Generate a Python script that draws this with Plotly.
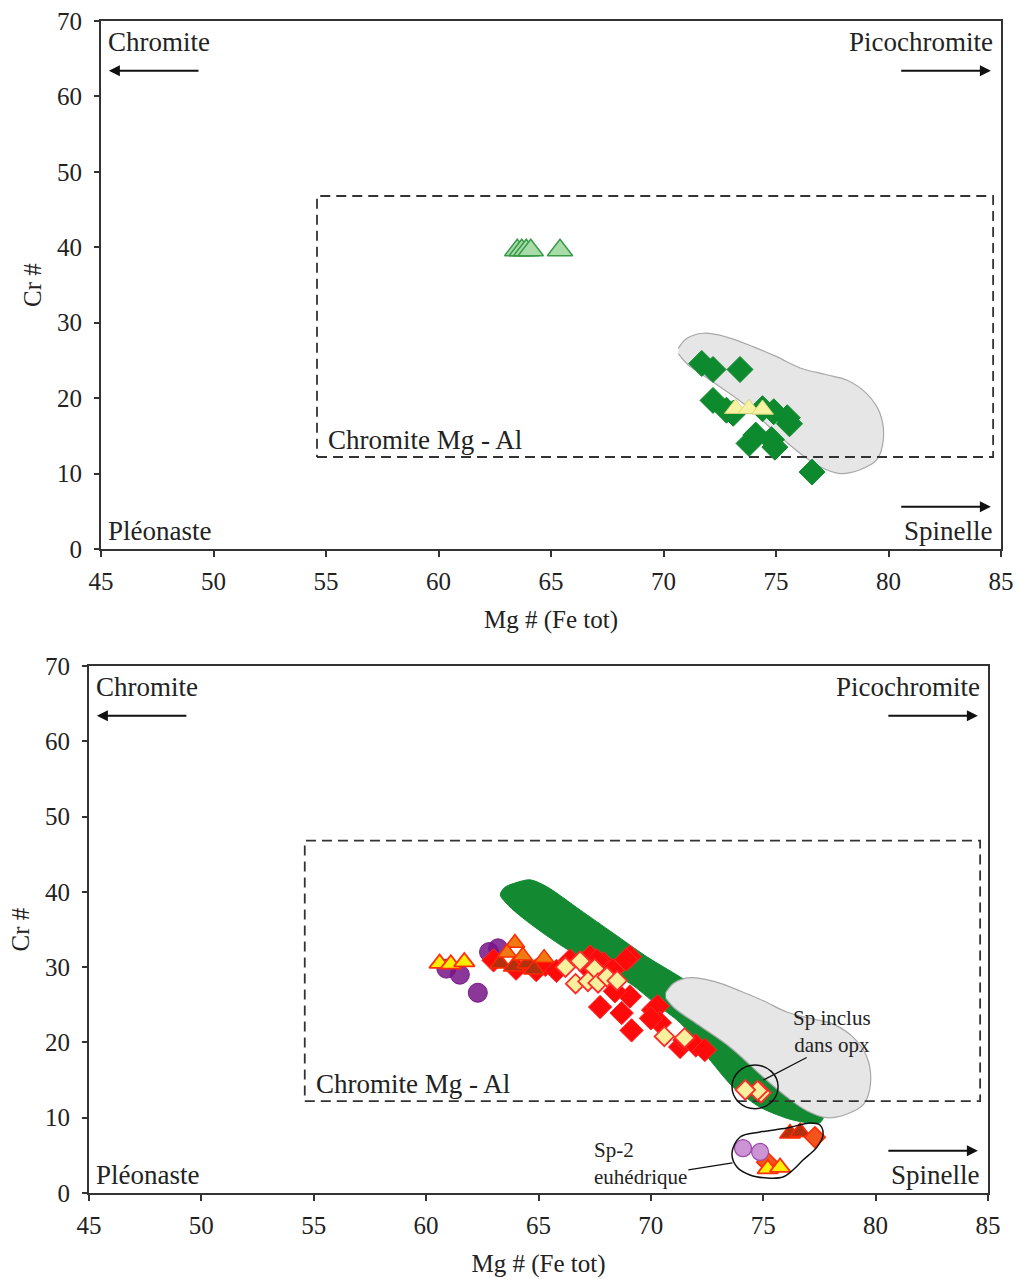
import plotly.graph_objects as go

# ---------------- TOP PANEL DATA ----------------
top_green_diamond_x = [71.7, 72.2, 73.4, 72.2, 72.8, 73.1, 74.4, 74.9, 75.5, 75.6, 73.8, 74.1, 74.8, 74.95, 76.6]
top_green_diamond_y = [24.6, 23.8, 23.8, 19.7, 18.4, 18.0, 18.6, 18.2, 17.4, 16.6, 14.0, 15.1, 14.5, 13.5, 10.2]

top_lightgreen_tri_x = [63.5, 63.7, 63.9, 64.1, 65.4]
top_lightgreen_tri_y = [39.6, 39.6, 39.6, 39.6, 39.6]

top_yellow_tri_x = [73.2, 73.8, 74.4]
top_yellow_tri_y = [18.6, 18.6, 18.5]

# ---------------- BOTTOM PANEL DATA ----------------
bot_purple_x = [60.9, 61.5, 62.3, 62.8, 63.2]
bot_purple_y = [29.8, 29.0, 26.6, 32.0, 32.5]

bot_lilac_x = [74.1, 74.86]
bot_lilac_y = [5.95, 5.45]

bot_red_diamond_x = [63.0, 64.0, 64.9, 65.3, 65.8, 66.4, 67.3, 67.9, 67.6, 68.3, 67.3, 69.07, 68.9,
                     67.74, 68.7, 69.07, 69.14, 68.4, 70.1, 70.3, 70.4, 70.0, 71.3, 71.5, 72.0, 72.4]
bot_red_diamond_y = [30.9, 29.8, 29.6, 30.3, 29.5, 30.9, 31.4, 30.5, 30.9, 29.6, 29.6, 31.4, 31.0,
                     24.7, 23.9, 26.1, 21.6, 26.8, 24.3, 24.8, 22.6, 23.2, 19.4, 20.3, 19.6, 19.0]

bot_yellow_diamond_x = [66.2, 66.85, 67.5, 66.65, 67.2, 67.65, 68.05, 68.5, 70.6, 71.5, 74.9, 74.75, 74.2]
bot_yellow_diamond_y = [30.0, 30.8, 29.8, 27.8, 28.1, 27.9, 28.7, 28.2, 20.8, 20.6, 13.3, 13.6, 13.7]

bot_orange_diamond_x = [77.3, 75.17]
bot_orange_diamond_y = [7.4, 4.1]

bot_darkred_tri_x = [63.3, 63.9, 64.5, 64.8, 76.19, 76.64]
bot_darkred_tri_y = [30.5, 30.1, 30.5, 29.7, 7.9, 8.1]

bot_orange_tri_x = [63.95, 63.6, 64.3, 65.25]
bot_orange_tri_y = [33.2, 31.9, 31.5, 31.2]

bot_yellow_tri_x = [60.6, 61.1, 61.7, 75.2, 75.75]
bot_yellow_tri_y = [30.5, 30.4, 30.7, 3.2, 3.4]

# ---------------- FIELDS / OUTLINES ----------------
gray_field_x = [70.66, 71.03, 71.77, 72.81, 74.0, 75.03, 76.07, 77.25, 78.14, 79.03, 79.62, 79.77,
                79.47, 78.73, 77.84, 76.96, 76.07, 75.03, 73.55, 72.07, 71.03, 70.66]
gray_field_y = [26.6, 27.9, 28.6, 28.1, 26.8, 25.5, 24.0, 23.1, 22.4, 20.6, 18.0, 14.5,
                11.8, 10.5, 10.0, 10.9, 12.7, 15.3, 19.3, 22.4, 24.6, 25.9]

green_band_x = [63.3, 63.5, 63.88, 64.62, 65.36, 66.85, 68.33, 69.81, 71.3, 73.5, 75.8, 77.3, 77.7, 77.5,
                76.32, 74.86, 73.65, 72.63, 71.3, 70.26, 69.07, 67.59, 66.1, 64.62, 63.73, 63.3]
green_band_y = [39.6, 40.6, 41.1, 41.6, 40.7, 37.6, 34.5, 31.4, 28.7, 24.5, 18.5, 13.0, 10.3, 9.3,
                9.7, 11.4, 14.1, 17.66, 22.6, 25.0, 27.85, 30.05, 32.7, 35.8, 38.0, 39.6]

box_x = [54.6, 84.65, 84.65, 54.6, 54.6]
box_y = [12.2, 12.2, 46.8, 46.8, 12.2]

sp2_loop_x = [73.61, 73.97, 74.86, 76.06, 77.08, 77.52, 77.66, 77.39, 76.77, 76.32, 75.88, 75.17,
              74.41, 73.83, 73.61]
sp2_loop_y = [5.31, 7.44, 8.1, 8.63, 9.3, 9.03, 7.7, 6.1, 4.38, 3.05, 2.12, 1.99, 2.39, 3.45, 5.31]

sp_incl_circle_x = [73.61, 75.66]
sp_incl_circle_y = [11.2, 17.0]

FONT = "Liberation Serif"
fig = go.Figure()


def sc(x, y, xa, ya, **kw):
    fig.add_trace(go.Scatter(x=x, y=y, xaxis=xa, yaxis=ya, showlegend=False, hoverinfo="skip", **kw))


DASH = "10px,6px"

# ---- top panel ----
sc(gray_field_x, gray_field_y, "x", "y", mode="lines", fill="toself", fillcolor="#e6e6e6",
   line=dict(color="#a8a8a8", width=1.2, shape="spline", smoothing=1.0))
sc(box_x, box_y, "x", "y", mode="lines", line=dict(color="#333333", width=1.8, dash=DASH))
sc(top_lightgreen_tri_x, top_lightgreen_tri_y, "x", "y", mode="markers",
   marker=dict(symbol="triangle-up", size=22, color="#a9dba9", line=dict(color="#3a9a4a", width=1.5)))
sc(top_green_diamond_x, top_green_diamond_y, "x", "y", mode="markers",
   marker=dict(symbol="diamond", size=20, color="#0e8a2e", line=dict(color="#0e8a2e", width=1)))
sc(top_yellow_tri_x, top_yellow_tri_y, "x", "y", mode="markers",
   marker=dict(symbol="triangle-up", size=19, color="#f6f3a2", line=dict(color="#d6d27a", width=1)))

# ---- bottom panel ----
sc(green_band_x, green_band_y, "x2", "y2", mode="lines", fill="toself", fillcolor="#138a32",
   line=dict(color="#138a32", width=1, shape="spline", smoothing=0.8))
sc(gray_field_x, gray_field_y, "x2", "y2", mode="lines", fill="toself", fillcolor="#e6e6e6",
   line=dict(color="#a8a8a8", width=1.2, shape="spline", smoothing=1.0))
sc(box_x, box_y, "x2", "y2", mode="lines", line=dict(color="#333333", width=1.8, dash=DASH))
sc(bot_purple_x, bot_purple_y, "x2", "y2", mode="markers",
   marker=dict(symbol="circle", size=19, color="rgba(118,20,135,0.85)", line=dict(color="#7a1a8a", width=1)))
sc(bot_red_diamond_x, bot_red_diamond_y, "x2", "y2", mode="markers",
   marker=dict(symbol="diamond", size=18, color="#ff0a0a", line=dict(color="#ff2a2a", width=1)))
sc(bot_darkred_tri_x, bot_darkred_tri_y, "x2", "y2", mode="markers",
   marker=dict(symbol="triangle-up", size=18, color="#b3300f", line=dict(color="#ff2a00", width=1.5)))
sc(bot_orange_tri_x, bot_orange_tri_y, "x2", "y2", mode="markers",
   marker=dict(symbol="triangle-up", size=17, color="#f07a12", line=dict(color="#ff2a00", width=1.5)))
sc(bot_yellow_diamond_x, bot_yellow_diamond_y, "x2", "y2", mode="markers",
   marker=dict(symbol="diamond", size=15, color="#f8f09c", line=dict(color="#ff2a2a", width=1.8)))
sc(bot_orange_diamond_x, bot_orange_diamond_y, "x2", "y2", mode="markers",
   marker=dict(symbol="diamond", size=16, color="#f2541c", line=dict(color="#ff2a00", width=1.5)))
sc(bot_lilac_x, bot_lilac_y, "x2", "y2", mode="markers",
   marker=dict(symbol="circle", size=17, color="#cc94d4", line=dict(color="#9a4aa8", width=1.2)))
sc(bot_yellow_tri_x, bot_yellow_tri_y, "x2", "y2", mode="markers",
   marker=dict(symbol="triangle-up", size=18, color="#ffee00", line=dict(color="#ff3010", width=1.8)))
sc(sp2_loop_x, sp2_loop_y, "x2", "y2", mode="lines",
   line=dict(color="#111111", width=1.5, shape="spline", smoothing=1.0))

fig.add_shape(type="circle", xref="x2", yref="y2",
              x0=sp_incl_circle_x[0], x1=sp_incl_circle_x[1],
              y0=sp_incl_circle_y[0], y1=sp_incl_circle_y[1],
              line=dict(color="#111111", width=1.5))

# ---- axes ----
TICKFONT = dict(family=FONT, size=25, color="#222222")
TITLEFONT = dict(family=FONT, size=25, color="#222222")
axis_common = dict(range=[45, 85], tickvals=list(range(45, 86, 5)), showgrid=False, zeroline=False,
                   showline=True, linecolor="#333333", linewidth=2, mirror=True,
                   ticks="outside", ticklen=6, tickwidth=2, tickcolor="#333333",
                   ticklabelstandoff=3, automargin=False, ticklabeloverflow="allow",
                   tickfont=TICKFONT,
                   title=dict(text="Mg # (Fe tot)", font=TITLEFONT, standoff=16))
yaxis_common = dict(range=[0, 70], tickvals=list(range(0, 71, 10)), showgrid=False, zeroline=False,
                    showline=True, linecolor="#333333", linewidth=2, mirror=True,
                    ticks="outside", ticklen=5, tickwidth=2, tickcolor="#333333",
                    ticklabelstandoff=7, automargin=False, ticklabeloverflow="allow",
                    tickfont=TICKFONT,
                    title=dict(text="Cr #", font=TITLEFONT, standoff=8))

W = 1017.0
H = 1279.0


def xdom(a, b):
    return [a / W, b / W]


def ydom(top, bottom):
    return [1 - bottom / H, 1 - top / H]


fig.update_layout(
    width=int(W), height=int(H),
    margin=dict(l=0, r=0, t=0, b=0, autoexpand=False),
    paper_bgcolor="white", plot_bgcolor="white",
    xaxis=dict(domain=xdom(101, 1001), anchor="y", **axis_common),
    yaxis=dict(domain=ydom(21, 549), anchor="x", **yaxis_common),
    xaxis2=dict(domain=xdom(89, 988), anchor="y2", **axis_common),
    yaxis2=dict(domain=ydom(666, 1193), anchor="x2", **yaxis_common),
)

# ---- labels and arrows ----
def txt(xr, yr, x, y, text, anchor="left", size=27):
    fig.add_annotation(xref=xr, yref=yr, x=x, y=y, text=text, showarrow=False, xanchor=anchor,
                       yanchor="middle", font=dict(family=FONT, size=size, color="#222222"))


def arrow(xr, yr, x_from, x_to, y):
    fig.add_annotation(xref=xr, yref=yr, axref=xr, ayref=yr, x=x_to, y=y, ax=x_from, ay=y, text="",
                       showarrow=True, arrowhead=2, arrowsize=1.1, arrowwidth=2, arrowcolor="#111111")


for xr, yr in (("x", "y"), ("x2", "y2")):
    txt(xr, yr, 45.2, 67.2, "Chromite")
    txt(xr, yr, 84.75, 67.2, "Picochromite", anchor="right")
    txt(xr, yr, 45.2, 2.4, "Pléonaste")
    txt(xr, yr, 84.75, 2.4, "Spinelle", anchor="right")
    txt(xr, yr, 55.0, 14.5, "Chromite Mg - Al")
    arrow(xr, yr, 49.4, 45.35, 63.4)
    arrow(xr, yr, 80.5, 84.55, 63.4)
    arrow(xr, yr, 80.5, 84.55, 5.6)

# callouts in bottom panel
fig.add_annotation(xref="x2", yref="y2", x=78.05, y=21.4, text="Sp inclus<br>dans opx", showarrow=False,
                   xanchor="center", yanchor="middle", align="center",
                   font=dict(family=FONT, size=21, color="#222222"))
fig.add_annotation(xref="x2", yref="y2", axref="x2", ayref="y2", x=75.0, y=15.0, ax=77.0, ay=18.1,
                   text="", showarrow=True, arrowhead=0, arrowwidth=1.3, arrowcolor="#111111")
fig.add_annotation(xref="x2", yref="y2", x=67.4, y=3.9, text="Sp-2<br>euhédrique", showarrow=False,
                   xanchor="left", yanchor="middle", align="left",
                   font=dict(family=FONT, size=21, color="#222222"))
fig.add_annotation(xref="x2", yref="y2", axref="x2", ayref="y2", x=73.63, y=4.0, ax=71.6, ay=3.05,
                   text="", showarrow=True, arrowhead=0, arrowwidth=1.3, arrowcolor="#111111")

# remove the default page margin so the figure fills the window exactly
fig.write_html("out.html", config={"displayModeBar": False},
               post_script="document.body.style.margin='0';document.body.style.overflow='hidden';")
